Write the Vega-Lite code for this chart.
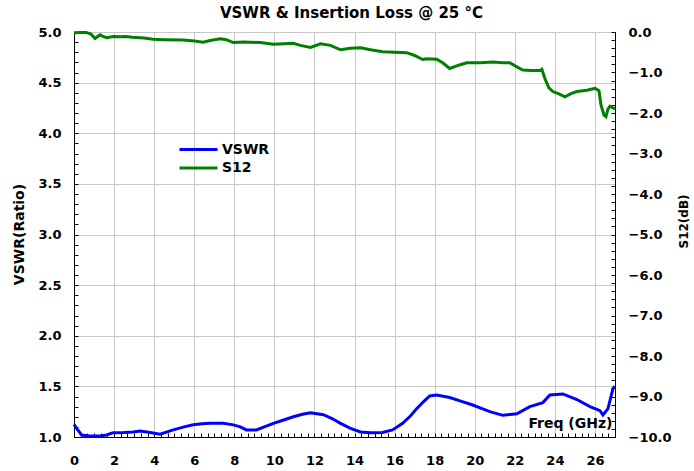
{
  "$schema": "https://vega.github.io/schema/vega-lite/v6.json",
  "width": 541,
  "height": 405,
  "autosize": {"type": "none"},
  "padding": {"left": 74, "top": 32, "right": 79, "bottom": 34},
  "background": "white",
  "title": {
    "text": "VSWR & Insertion Loss @ 25 °C",
    "font": "DejaVu Sans",
    "fontSize": 15,
    "fontWeight": "bold",
    "color": "#000",
    "frame": "group",
    "anchor": "middle",
    "offset": 12,
    "baseline": "alphabetic",
    "dx": 7,
    "dy": 19
  },
  "config": {
    "view": {"stroke": "#000", "strokeWidth": 1},
    "axis": {
      "labelFont": "DejaVu Sans",
      "labelFontWeight": "bold",
      "labelFontSize": 13,
      "labelColor": "#000",
      "titleFont": "DejaVu Sans",
      "titleFontWeight": "bold",
      "titleFontSize": 14,
      "titleColor": "#000",
      "domainColor": "#000",
      "domainWidth": 1,
      "tickColor": "#000",
      "tickWidth": 1,
      "gridColor": "#c8c8c8",
      "gridWidth": 1,
      "labelFlush": false,
      "labelOverlap": false
    },
    "legend": {
      "symbolType": "stroke",
      "symbolSize": 1444,
      "symbolStrokeWidth": 3,
      "labelFont": "DejaVu Sans",
      "labelFontWeight": "bold",
      "labelFontSize": 14,
      "labelColor": "#000",
      "labelOffset": 3
    }
  },
  "datasets": {
    "vswr": [
      {"f": 0, "v": 1.125, "series": "VSWR"},
      {"f": 0.13, "v": 1.086, "series": "VSWR"},
      {"f": 0.38, "v": 1.02, "series": "VSWR"},
      {"f": 0.8, "v": 1.01, "series": "VSWR"},
      {"f": 1.3, "v": 1.01, "series": "VSWR"},
      {"f": 1.63, "v": 1.02, "series": "VSWR"},
      {"f": 1.95, "v": 1.043, "series": "VSWR"},
      {"f": 2.5, "v": 1.045, "series": "VSWR"},
      {"f": 2.95, "v": 1.05, "series": "VSWR"},
      {"f": 3.3, "v": 1.06, "series": "VSWR"},
      {"f": 3.8, "v": 1.045, "series": "VSWR"},
      {"f": 4.3, "v": 1.027, "series": "VSWR"},
      {"f": 4.95, "v": 1.07, "series": "VSWR"},
      {"f": 5.5, "v": 1.1, "series": "VSWR"},
      {"f": 5.95, "v": 1.12, "series": "VSWR"},
      {"f": 6.4, "v": 1.13, "series": "VSWR"},
      {"f": 6.8, "v": 1.135, "series": "VSWR"},
      {"f": 7.45, "v": 1.135, "series": "VSWR"},
      {"f": 7.95, "v": 1.12, "series": "VSWR"},
      {"f": 8.3, "v": 1.1, "series": "VSWR"},
      {"f": 8.6, "v": 1.07, "series": "VSWR"},
      {"f": 9.1, "v": 1.07, "series": "VSWR"},
      {"f": 9.5, "v": 1.1, "series": "VSWR"},
      {"f": 9.95, "v": 1.135, "series": "VSWR"},
      {"f": 10.5, "v": 1.17, "series": "VSWR"},
      {"f": 10.95, "v": 1.2, "series": "VSWR"},
      {"f": 11.4, "v": 1.225, "series": "VSWR"},
      {"f": 11.8, "v": 1.24, "series": "VSWR"},
      {"f": 12.45, "v": 1.22, "series": "VSWR"},
      {"f": 12.9, "v": 1.18, "series": "VSWR"},
      {"f": 13.3, "v": 1.135, "series": "VSWR"},
      {"f": 13.8, "v": 1.086, "series": "VSWR"},
      {"f": 14.3, "v": 1.05, "series": "VSWR"},
      {"f": 14.8, "v": 1.042, "series": "VSWR"},
      {"f": 15.4, "v": 1.045, "series": "VSWR"},
      {"f": 15.9, "v": 1.07, "series": "VSWR"},
      {"f": 16.4, "v": 1.135, "series": "VSWR"},
      {"f": 16.8, "v": 1.21, "series": "VSWR"},
      {"f": 17.1, "v": 1.28, "series": "VSWR"},
      {"f": 17.45, "v": 1.35, "series": "VSWR"},
      {"f": 17.75, "v": 1.405, "series": "VSWR"},
      {"f": 18.1, "v": 1.415, "series": "VSWR"},
      {"f": 18.75, "v": 1.39, "series": "VSWR"},
      {"f": 19.3, "v": 1.355, "series": "VSWR"},
      {"f": 19.9, "v": 1.316, "series": "VSWR"},
      {"f": 20.3, "v": 1.285, "series": "VSWR"},
      {"f": 20.75, "v": 1.25, "series": "VSWR"},
      {"f": 21.4, "v": 1.214, "series": "VSWR"},
      {"f": 22.1, "v": 1.23, "series": "VSWR"},
      {"f": 22.75, "v": 1.3, "series": "VSWR"},
      {"f": 23.4, "v": 1.34, "series": "VSWR"},
      {"f": 23.75, "v": 1.415, "series": "VSWR"},
      {"f": 24.4, "v": 1.425, "series": "VSWR"},
      {"f": 25.1, "v": 1.37, "series": "VSWR"},
      {"f": 25.75, "v": 1.3, "series": "VSWR"},
      {"f": 26.25, "v": 1.26, "series": "VSWR"},
      {"f": 26.4, "v": 1.217, "series": "VSWR"},
      {"f": 26.65, "v": 1.28, "series": "VSWR"},
      {"f": 26.9, "v": 1.48, "series": "VSWR"},
      {"f": 27, "v": 1.5, "series": "VSWR"}
    ],
    "s12": [
      {"f": 0, "db": -0.02, "series": "S12"},
      {"f": 0.3, "db": -0.01, "series": "S12"},
      {"f": 0.6, "db": -0.01, "series": "S12"},
      {"f": 0.85, "db": -0.05, "series": "S12"},
      {"f": 1.05, "db": -0.16, "series": "S12"},
      {"f": 1.3, "db": -0.07, "series": "S12"},
      {"f": 1.45, "db": -0.11, "series": "S12"},
      {"f": 1.63, "db": -0.14, "series": "S12"},
      {"f": 1.95, "db": -0.11, "series": "S12"},
      {"f": 2.3, "db": -0.12, "series": "S12"},
      {"f": 2.6, "db": -0.11, "series": "S12"},
      {"f": 2.9, "db": -0.13, "series": "S12"},
      {"f": 3.5, "db": -0.15, "series": "S12"},
      {"f": 3.95, "db": -0.18, "series": "S12"},
      {"f": 4.5, "db": -0.19, "series": "S12"},
      {"f": 5.45, "db": -0.2, "series": "S12"},
      {"f": 6.0, "db": -0.22, "series": "S12"},
      {"f": 6.45, "db": -0.25, "series": "S12"},
      {"f": 6.8, "db": -0.21, "series": "S12"},
      {"f": 7.3, "db": -0.17, "series": "S12"},
      {"f": 7.6, "db": -0.19, "series": "S12"},
      {"f": 7.95, "db": -0.26, "series": "S12"},
      {"f": 8.5, "db": -0.25, "series": "S12"},
      {"f": 9.3, "db": -0.26, "series": "S12"},
      {"f": 9.95, "db": -0.3, "series": "S12"},
      {"f": 10.5, "db": -0.29, "series": "S12"},
      {"f": 10.95, "db": -0.28, "series": "S12"},
      {"f": 11.3, "db": -0.33, "series": "S12"},
      {"f": 11.8, "db": -0.38, "series": "S12"},
      {"f": 12.3, "db": -0.29, "series": "S12"},
      {"f": 12.8, "db": -0.33, "series": "S12"},
      {"f": 13.3, "db": -0.44, "series": "S12"},
      {"f": 13.8, "db": -0.4, "series": "S12"},
      {"f": 14.3, "db": -0.39, "series": "S12"},
      {"f": 14.8, "db": -0.44, "series": "S12"},
      {"f": 15.4, "db": -0.49, "series": "S12"},
      {"f": 16.6, "db": -0.51, "series": "S12"},
      {"f": 17.0, "db": -0.58, "series": "S12"},
      {"f": 17.4, "db": -0.68, "series": "S12"},
      {"f": 17.6, "db": -0.66, "series": "S12"},
      {"f": 18.1, "db": -0.67, "series": "S12"},
      {"f": 18.4, "db": -0.76, "series": "S12"},
      {"f": 18.75, "db": -0.9, "series": "S12"},
      {"f": 19.2, "db": -0.82, "series": "S12"},
      {"f": 19.6, "db": -0.76, "series": "S12"},
      {"f": 20.3, "db": -0.76, "series": "S12"},
      {"f": 20.9, "db": -0.74, "series": "S12"},
      {"f": 21.4, "db": -0.76, "series": "S12"},
      {"f": 21.75, "db": -0.76, "series": "S12"},
      {"f": 22.1, "db": -0.86, "series": "S12"},
      {"f": 22.4, "db": -0.94, "series": "S12"},
      {"f": 22.8, "db": -0.95, "series": "S12"},
      {"f": 23.25, "db": -0.95, "series": "S12"},
      {"f": 23.35, "db": -0.92, "series": "S12"},
      {"f": 23.5, "db": -1.15, "series": "S12"},
      {"f": 23.7, "db": -1.38, "series": "S12"},
      {"f": 23.9, "db": -1.47, "series": "S12"},
      {"f": 24.2, "db": -1.53, "series": "S12"},
      {"f": 24.5, "db": -1.6, "series": "S12"},
      {"f": 24.8, "db": -1.52, "series": "S12"},
      {"f": 25.1, "db": -1.47, "series": "S12"},
      {"f": 25.6, "db": -1.44, "series": "S12"},
      {"f": 26.0, "db": -1.39, "series": "S12"},
      {"f": 26.2, "db": -1.45, "series": "S12"},
      {"f": 26.3, "db": -1.8, "series": "S12"},
      {"f": 26.45, "db": -2.05, "series": "S12"},
      {"f": 26.55, "db": -2.09, "series": "S12"},
      {"f": 26.65, "db": -1.9, "series": "S12"},
      {"f": 26.75, "db": -1.83, "series": "S12"},
      {"f": 27, "db": -1.9, "series": "S12"}
    ]
  },
  "layer": [
    {
      "data": {"name": "vswr"},
      "mark": {"type": "line", "strokeWidth": 3, "opacity": 0, "interpolate": "linear"},
      "encoding": {
        "x": {"field": "f", "type": "quantitative", "scale": {"domain": [0, 27], "nice": false, "zero": false},
          "axis": {"orient": "bottom", "values": [0,0.33,0.67,1,1.33,1.67,2,2.33,2.67,3,3.33,3.67,4,4.33,4.67,5,5.33,5.67,6,6.33,6.67,7,7.33,7.67,8,8.33,8.67,9,9.33,9.67,10,10.33,10.67,11,11.33,11.67,12,12.33,12.67,13,13.33,13.67,14,14.33,14.67,15,15.33,15.67,16,16.33,16.67,17,17.33,17.67,18,18.33,18.67,19,19.33,19.67,20,20.33,20.67,21,21.33,21.67,22,22.33,22.67,23,23.33,23.67,24,24.33,24.67,25,25.33,25.67,26,26.33,26.67,27],
            "labels": false, "grid": false, "domain": false, "ticks": true, "tickSize": -4, "title": null}},
        "y": {"field": "v", "type": "quantitative", "scale": {"domain": [1, 5], "nice": false, "zero": false},
          "axis": {"orient": "left", "values": [1,1.1,1.2,1.3,1.4,1.5,1.6,1.7,1.8,1.9,2,2.1,2.2,2.3,2.4,2.5,2.6,2.7,2.8,2.9,3,3.1,3.2,3.3,3.4,3.5,3.6,3.7,3.8,3.9,4,4.1,4.2,4.3,4.4,4.5,4.6,4.7,4.8,4.9,5],
            "labels": false, "grid": false, "domain": false, "ticks": true, "tickSize": -4, "title": null}}
      }
    },
    {
      "data": {"name": "s12"},
      "mark": {"type": "line", "strokeWidth": 3, "opacity": 0},
      "encoding": {
        "x": {"field": "f", "type": "quantitative", "scale": {"domain": [0, 27], "nice": false, "zero": false}, "axis": null},
        "y": {"field": "db", "type": "quantitative", "scale": {"domain": [-10, 0], "nice": false, "zero": false},
          "axis": {"orient": "right", "values": [-10,-9.8,-9.6,-9.4,-9.2,-9,-8.8,-8.6,-8.4,-8.2,-8,-7.8,-7.6,-7.4,-7.2,-7,-6.8,-6.6,-6.4,-6.2,-6,-5.8,-5.6,-5.4,-5.2,-5,-4.8,-4.6,-4.4,-4.2,-4,-3.8,-3.6,-3.4,-3.2,-3,-2.8,-2.6,-2.4,-2.2,-2,-1.8,-1.6,-1.4,-1.2,-1,-0.8,-0.6,-0.4,-0.2,0],
            "labels": false, "grid": false, "domain": false, "ticks": true, "tickSize": -4, "title": null}}
      }
    },
    {
      "data": {"name": "vswr"},
      "mark": {"type": "line", "strokeWidth": 3},
      "encoding": {
        "x": {"field": "f", "type": "quantitative", "scale": {"domain": [0, 27], "nice": false, "zero": false},
          "axis": {"orient": "bottom", "values": [0,2,4,6,8,10,12,14,16,18,20,22,24,26], "format": "d", "grid": true, "ticks": false, "labelPadding": 17,
            "title": "Freq (GHz)", "titleAlign": "right", "titleAnchor": null, "titleX": 538, "titleY": -9.5, "titleBaseline": "alphabetic"}},
        "y": {"field": "v", "type": "quantitative", "scale": {"domain": [1, 5], "nice": false, "zero": false},
          "axis": {"orient": "left", "values": [1,1.5,2,2.5,3,3.5,4,4.5,5], "format": ".1f", "grid": true, "ticks": false, "labelPadding": 13,
            "title": "VSWR(Ratio)", "titleAngle": 270, "titleX": -55, "titleY": 202, "titleAlign": "center", "titleBaseline": "middle"}},
        "color": {"field": "series", "type": "nominal",
          "scale": {"domain": ["VSWR"], "range": ["#0000ff"]},
          "legend": {"title": null, "orient": "none", "legendX": 104, "legendY": 97}}
      }
    },
    {
      "data": {"name": "s12"},
      "mark": {"type": "line", "strokeWidth": 3},
      "encoding": {
        "x": {"field": "f", "type": "quantitative", "scale": {"domain": [0, 27], "nice": false, "zero": false}, "axis": null},
        "y": {"field": "db", "type": "quantitative", "scale": {"domain": [-10, 0], "nice": false, "zero": false},
          "axis": {"orient": "right", "values": [-10,-9,-8,-7,-6,-5,-4,-3,-2,-1,0], "format": ".1f", "grid": false, "ticks": false, "labelPadding": 13,
            "title": "S12(dB)", "titleFontSize": 12, "titleAngle": 270, "titleX": 68, "titleY": 189, "titleAlign": "center", "titleBaseline": "middle"}},
        "color": {"field": "series", "type": "nominal",
          "scale": {"domain": ["S12"], "range": ["#008000"]},
          "legend": {"title": null, "orient": "none", "legendX": 104, "legendY": 115.5}}
      }
    }
  ],
  "resolve": {"scale": {"x": "independent", "y": "independent", "color": "independent"}}
}
